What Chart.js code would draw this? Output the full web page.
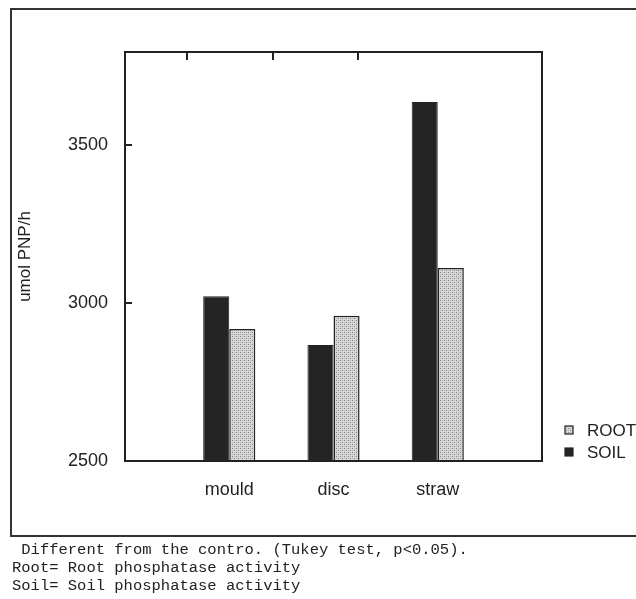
<!DOCTYPE html>
<html lang="en">
<head>
    <meta charset="UTF-8">
    <title>Phosphatase activity</title>
    <style>
        body {
            margin: 0;
            background: #fff;
            width: 636px;
            height: 599px;
            overflow: hidden;
            position: relative;
        }
        #chart {
            position: absolute;
            left: 0;
            top: 0;
        }
        .notes {
            position: absolute;
            left: 12px;
            top: 541px;
            font-family: "Liberation Mono", "DejaVu Sans Mono", monospace;
            font-size: 15.5px;
            line-height: 18px;
            color: #222;
            white-space: pre;
        }
    </style>
    <script src="https://cdn.jsdelivr.net/npm/chart.js"></script>
</head>
<body>
    <canvas id="chart" width="636" height="599"></canvas>
    <div class="notes"> Different from the contro. (Tukey test, p&lt;0.05).
Root= Root phosphatase activity
Soil= Soil phosphatase activity</div>

    <script>
        // values
        const categories = ['mould', 'disc', 'straw'];
        const soilValues = [3022, 2867, 3637];
        const rootValues = [2918, 2960, 3111];
        const yTicks = [2500, 3000, 3500];
        const yMin = 2500;
        const yMax = 3795;

        // categories sit at 1/4, 1/2, 3/4 of the plot, so pad with blank slots
        const labels = [''].concat(categories, ['']);
        const pad = arr => [null].concat(arr, [null]);

        // stipple fill for the ROOT bars
        function stipple() {
            const c = document.createElement('canvas');
            c.width = 4;
            c.height = 4;
            const g = c.getContext('2d');
            g.fillStyle = '#d8d8d8';
            g.fillRect(0, 0, 4, 4);
            g.fillStyle = '#848484';
            g.fillRect(0, 0, 1, 1);
            g.fillRect(2, 2, 1, 1);
            g.fillStyle = '#b0b0b0';
            g.fillRect(2, 0, 1, 1);
            g.fillRect(0, 2, 1, 1);
            return g.createPattern(c, 'repeat');
        }

        const ctx = document.getElementById('chart').getContext('2d');
        const rootFill = stipple();
        const ink = '#222';
        const font = { family: '"Liberation Sans", Arial, sans-serif', size: 18 };

        // outer frame, plot box, inward ticks and the legend
        const decorations = {
            id: 'decorations',
            beforeDraw(chart) {
                const c = chart.ctx;
                c.save();
                c.fillStyle = '#fff';
                c.fillRect(0, 0, chart.width, chart.height);
                c.strokeStyle = '#333';
                c.lineWidth = 2;
                c.strokeRect(11, 9, 640, 527);
                c.restore();
            },
            afterDraw(chart) {
                const c = chart.ctx;
                const a = chart.chartArea;
                const y = chart.scales.y;
                c.save();
                c.strokeStyle = ink;
                c.lineWidth = 2;
                c.strokeRect(a.left, a.top, a.right - a.left, a.bottom - a.top);

                c.beginPath();
                y.ticks.forEach(t => {
                    const py = Math.round(y.getPixelForValue(t.value));
                    c.moveTo(a.left, py);
                    c.lineTo(a.left + 7, py);
                });
                [0.149, 0.355, 0.559].forEach(f => {
                    const px = Math.round(a.left + f * (a.right - a.left));
                    c.moveTo(px, a.top);
                    c.lineTo(px, a.top + 8);
                });
                c.stroke();

                // legend (ROOT above SOIL)
                const ds = chart.data.datasets;
                const items = [ds[1], ds[0]];
                const lx = a.right + 23;
                c.font = '17px ' + font.family;
                c.textBaseline = 'middle';
                items.forEach((d, i) => {
                    const ly = a.bottom - 31 + i * 22;
                    c.fillStyle = d.backgroundColor;
                    c.fillRect(lx, ly - 4, 8, 8);
                    c.lineWidth = 1.2;
                    c.strokeStyle = ink;
                    c.strokeRect(lx, ly - 4, 8, 8);
                    c.fillStyle = ink;
                    c.fillText(d.label, lx + 22, ly + 1);
                });
                c.restore();
            }
        };

        new Chart(ctx, {
            type: 'bar',
            data: {
                labels: labels,
                datasets: [
                    {
                        label: 'SOIL',
                        data: pad(soilValues),
                        backgroundColor: '#242424',
                        borderColor: ink,
                        borderWidth: 1
                    },
                    {
                        label: 'ROOT',
                        data: pad(rootValues),
                        backgroundColor: rootFill,
                        borderColor: ink,
                        borderWidth: 1.5
                    }
                ]
            },
            options: {
                responsive: false,
                animation: false,
                layout: {
                    padding: { left: 0, top: 52, right: 94, bottom: 78 }
                },
                plugins: {
                    legend: { display: false },
                    tooltip: { enabled: false }
                },
                datasets: {
                    bar: { categoryPercentage: 0.5, barPercentage: 1.0 }
                },
                scales: {
                    x: {
                        offset: false,
                        grid: { display: false },
                        border: { display: false },
                        ticks: { color: ink, font: font, padding: 10, autoSkip: false, maxRotation: 0 },
                        afterFit(scale) { scale.height = 60; }
                    },
                    y: {
                        min: yMin,
                        max: yMax,
                        grid: { display: false },
                        border: { display: false },
                        ticks: {
                            color: ink,
                            font: font,
                            padding: 9,
                            callback: v => String(v)
                        },
                        afterBuildTicks(scale) {
                            scale.ticks = yTicks.map(v => ({ value: v }));
                        },
                        title: {
                            display: true,
                            text: 'umol PNP/h',
                            color: ink,
                            font: { family: font.family, size: 17 },
                            padding: { top: 15, bottom: 0 }
                        },
                        afterFit(scale) { scale.width = 125; }
                    }
                }
            },
            plugins: [decorations]
        });
    </script>
</body>
</html>
